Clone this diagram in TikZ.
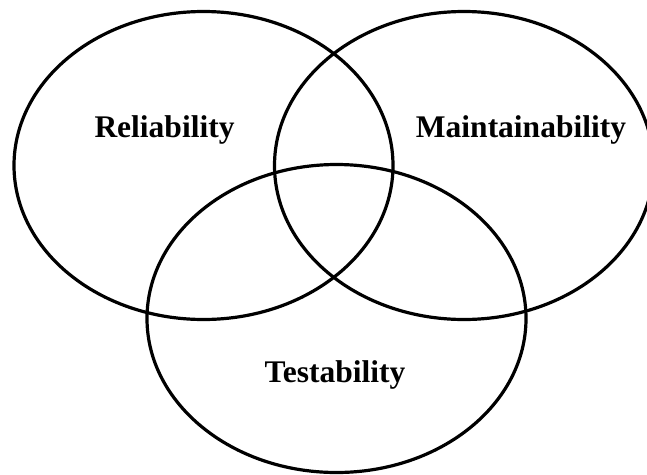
\documentclass[tikz,border=0pt]{standalone}
\usepackage{fontspec}
\setmainfont{Liberation Serif}
\usetikzlibrary{shapes.geometric}
\begin{document}
\begin{tikzpicture}[x=1pt,y=-1pt,
  setring/.style={ellipse,draw=black,line width=3.2pt,minimum width=379pt,minimum height=308pt,inner sep=0pt},
  setlabel/.style={anchor=base,inner sep=0pt,font=\fontsize{31.5}{36}\selectfont\bfseries}]
\useasboundingbox (0,0) rectangle (647,474);
\clip (0,0) rectangle (647,474);
\node[setring] (rel) at (203.5,165.5) {};
\node[setring] (main) at (464,165.5) {};
\node[setring] (test) at (336.5,318.5) {};
\node[setlabel] (trel) at (164.5,137) {Reliability};
\node[setlabel] (tmain) at (521,137) {Maintainability};
\node[setlabel] (ttest) at (335,382.5) {Testability};
\end{tikzpicture}
\end{document}
